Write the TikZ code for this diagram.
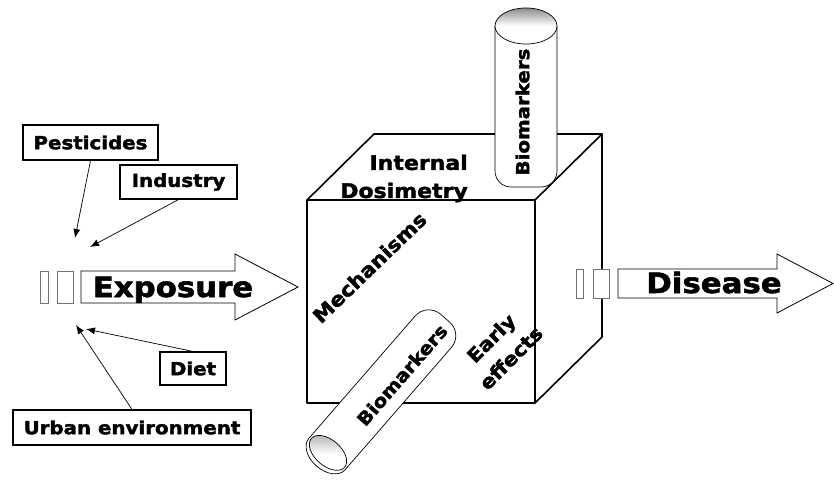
\documentclass[tikz,border=0pt]{standalone}
\usepackage{fontspec}
\setmainfont{DejaVu Sans}[FakeStretch=1.1, BoldFeatures={FakeBold=2}]
\usetikzlibrary{arrows.meta}
\newcommand\fsz[2]{\fontsize{#1}{#2}\selectfont\bfseries}
\begin{document}
\begin{tikzpicture}[x=1pt,y=-1pt,
  lbl/.style={draw, line width=1.1pt, inner sep=0pt, font=\fsz{18}{22}},
  cubeline/.style={line width=1.6pt, line join=round},
  cyl/.style={draw, fill=white, line width=0.7pt},
  capshade/.style={draw, line width=0.7pt, top color=black!45, bottom color=white, middle color=white},
  bigarrow/.style={draw, fill=white, line width=0.8pt, line join=miter},
  ptr/.style={-{Latex[length=9pt,width=7pt]}, line width=0.7pt},
  gapbox/.style={draw=black!55, line width=0.8pt, fill=white}]
\useasboundingbox (0,0) rectangle (834,479);

% cube
\draw[cubeline] (307,200) rectangle (535,403);
\draw[cubeline] (307,200) -- (374,134) -- (602,134) -- (535,200);
\draw[cubeline] (602,134) -- (602,337) -- (535,403);

% top cylinder
\path[cyl, rounded corners=16pt] (495,26) -- (495,187) -- (557,187) -- (557,26);
\path[capshade] (526,26) ellipse [x radius=31pt, y radius=18pt];
\node[rotate=90, font=\fsz{18}{22}] (bm1) at (522.5,112) {Biomarkers};

% bottom cylinder
\begin{scope}[shift={(327,454)}, rotate=49]
  \path[cyl] (0,0) ellipse [x radius=16pt, y radius=24pt];
  \path[cyl, rounded corners=18pt] (0,-24) -- (180,-24) -- (180,24) -- (0,24);
  \begin{scope}
    \clip (1.5,0) ellipse [x radius=13pt, y radius=22pt];
    \begin{scope}[rotate=-49]
      \shade[top color=black!45, bottom color=white, middle color=white] (-30,-30) rectangle (30,30);
    \end{scope}
  \end{scope}
  \draw[line width=0.7pt] (1.5,0) ellipse [x radius=13pt, y radius=22pt];
\end{scope}
\node[rotate=49, font=\fsz{18}{22}] (bm2) at (402,375) {Biomarkers};

% cube texts
\node[font=\fsz{20}{28}, align=right, anchor=east, inner sep=0pt] (dos) at (468,178.5) {Internal\\Dosimetry};
\node[font=\fsz{19.5}{24}, rotate=44] (mech) at (369.5,267.5) {Mechanisms};
\node[font=\fsz{19}{28}, rotate=45, align=center] (early) at (501,348) {Early\\effects};

% exposure arrow
\path[gapbox] (40,271) rectangle (48,303);
\path[gapbox] (57,271) rectangle (73,303);
\path[bigarrow] (81,271) -- (235,271) -- (235,254) -- (298,287) -- (235,320) -- (235,303) -- (81,303) -- cycle;
\node[font=\fsz{28}{32}, anchor=base, inner sep=0pt] (expo) at (173,297) {Exposure};

% disease arrow
\path[gapbox] (576,269) rectangle (583,298);
\path[gapbox] (593,269) rectangle (609,298);
\path[bigarrow] (618,269) -- (777,269) -- (777,254) -- (833,283.5) -- (777,313) -- (777,298) -- (618,298) -- cycle;
\node[font=\fsz{28}{32}, anchor=base, inner sep=0pt] (dis) at (714,293) {Disease};

% source labels
\node[lbl, minimum width=135pt, minimum height=35pt] (pest) at (90.5,142.5) {Pesticides};
\node[lbl, minimum width=117pt, minimum height=34pt] (ind) at (178.5,182) {Industry};
\node[lbl, minimum width=66pt, minimum height=33pt] (diet) at (193,368.5) {Diet};
\node[lbl, minimum width=238pt, minimum height=35pt] (urb) at (132,427.5) {Urban environment};

\coordinate (p1) at (75,238);
\coordinate (i1) at (90,247);
\coordinate (d1) at (86,329);
\coordinate (u1) at (76,325);
\draw[ptr] (pest.south) -- (p1);
\draw[ptr] (ind.south) -- (i1);
\draw[ptr] (diet.north) -- (d1);
\draw[ptr] (urb.north) -- (u1);
\end{tikzpicture}
\end{document}
